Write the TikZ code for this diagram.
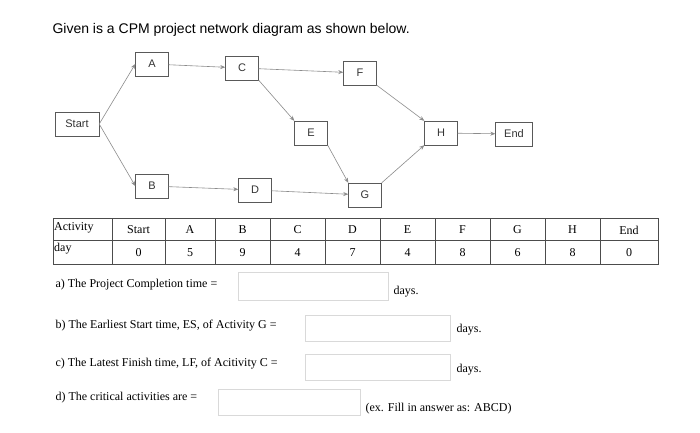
\documentclass[tikz,border=0pt]{standalone}
\usepackage{fontspec}
\setmainfont{Liberation Serif}
\newfontfamily\sfont{Liberation Sans}
\usetikzlibrary{arrows.meta}
\begin{document}
\begin{tikzpicture}[x=1pt,y=-1pt,
  act/.style={draw=black!65,fill=white,minimum width=33pt,minimum height=24pt,font=\sfont\fontsize{11}{13}\selectfont,text=black!80},
  con/.style={draw=black!45,line width=0.6pt,-{Stealth[length=5pt,width=4pt]}},
  ans/.style={draw=black!15,fill=white},
  tl/.style={font=\fontsize{12}{14}\selectfont,anchor=west},
  cell/.style={font=\fontsize{12}{14}\selectfont}]
\useasboundingbox (0,0) rectangle (700,432);
\fill[white] (0,0) rectangle (700,432);
\node[anchor=west,font=\sfont\fontsize{14}{16}\selectfont] (title) at (49,30) {Given is a CPM project network diagram as shown below.};
\node[act,minimum width=44pt] (st) at (77,124) {Start};
\node[act] (a) at (152,64) {A};
\node[act] (c) at (242,68) {C};
\node[act] (f) at (360,73) {F};
\node[act] (e) at (311,133) {E};
\node[act] (h) at (441,133) {H};
\node[act,minimum width=37pt] (en) at (514,134) {End};
\node[act] (b) at (152,186) {B};
\node[act] (d) at (255,190) {D};
\node[act] (g) at (365,195) {G};
\draw[con] (st.east) -- (a.west);
\draw[con] (st.east) -- (b.west);
\draw[con] (a) -- (c);
\draw[con] (c) -- (f);
\draw[con] (c.south east) -- (e.north west);
\draw[con] (b) -- (d);
\draw[con] (d) -- (g);
\draw[con] (e.south east) -- (g.north west);
\draw[con] (f.south east) -- (h.north west);
\draw[con] (g.north east) -- (h.south west);
\draw[con] (h) -- (en);
% table
\draw[black!70] (53,218) rectangle (658,264);
\draw[black!70] (53,240) -- (658,240);
\foreach \x in {112,165,215,270,325,380,435,490,545,600} \draw[black!70] (\x,218) -- (\x,264);
\node[cell,anchor=west,inner sep=1pt] (h0) at (53,228) {Activity};
\node[cell,anchor=west,inner sep=1pt] (d0) at (53,249) {day};
\foreach \l/\v/\xa/\xb in {Start/0/112/165,A/5/165/215,B/9/215/270,C/4/270/325,D/7/325/380,E/4/380/435,F/8/435/490,G/6/490/545,H/8/545/600,End/0/600/658}{
  \node[cell] at ({(\xa+\xb)/2},230) {\l};
  \node[cell] at ({(\xa+\xb)/2},253) {\v};
}
% questions
\node[tl] (qa) at (52,285) {a) The Project Completion time =};
\draw[ans] (238,272) rectangle (388,300);
\node[tl] (da) at (390,292) {days.};
\node[tl] (qb) at (52,326) {b) The Earliest Start time, ES, of Activity G =};
\draw[ans] (305,315) rectangle (450,341);
\node[tl] (db) at (453,330) {days.};
\node[tl] (qc) at (52,364) {c) The Latest Finish time, LF, of Acitivity C =};
\draw[ans] (305,354) rectangle (450,380);
\node[tl] (dc) at (453,370) {days.};
\node[tl] (qd) at (52,398) {d) The critical activities are =};
\draw[ans] (218,389) rectangle (360,415);
\node[tl] (dd) at (362,409) {(ex. Fill in answer as: ABCD)};
\end{tikzpicture}
\end{document}
